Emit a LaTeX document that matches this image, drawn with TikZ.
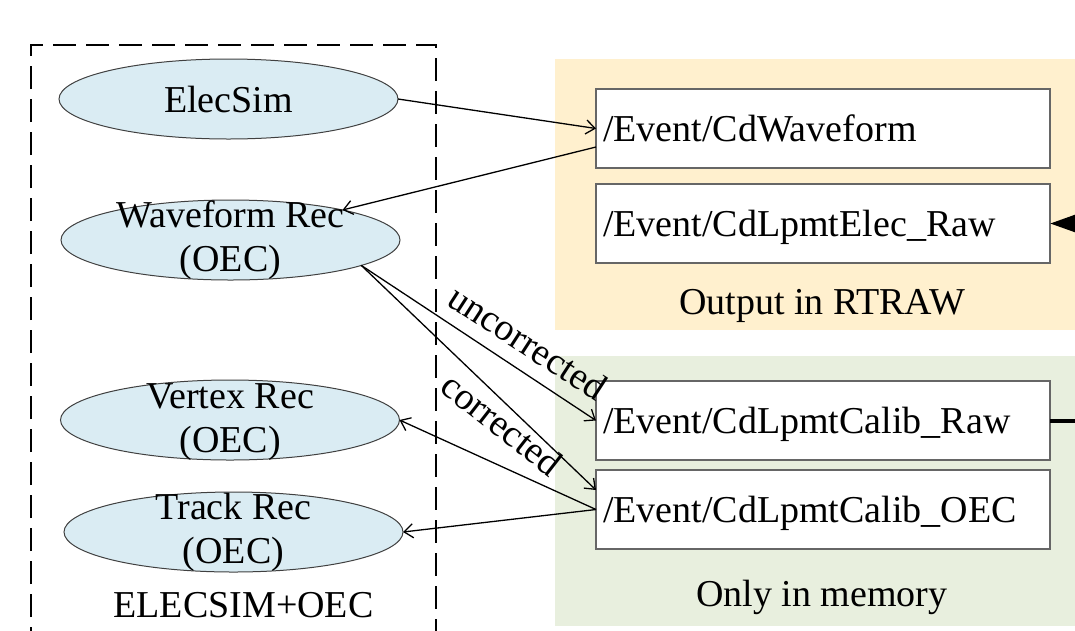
\documentclass[tikz,border=0pt]{standalone}
\usepackage{fontspec}
\setmainfont{Liberation Serif}
\usetikzlibrary{shapes.geometric,arrows.meta}
\definecolor{ellfill}{HTML}{DAECF3}
\definecolor{ellline}{HTML}{404040}
\definecolor{boxline}{HTML}{666666}
\definecolor{orangepanel}{HTML}{FFF0CE}
\definecolor{greenpanel}{HTML}{E8EFDE}
\begin{document}
\begin{tikzpicture}[x=1pt,y=-1pt,
  every node/.style={font=\fontsize{38}{44}\selectfont, inner sep=0pt, outer sep=0pt},
  ell/.style={ellipse, draw=ellline, line width=1pt, fill=ellfill, minimum width=339pt, minimum height=80pt},
  lbl/.style={align=center},
  databox/.style={draw=boxline, line width=1.5pt, fill=white, minimum width=454pt, minimum height=79pt, text width=440pt, align=left, text height=30pt, text depth=5pt},
  conn/.style={line width=1.3pt, -{Straight Barb[length=9pt,width=14pt]}},
  thick conn/.style={line width=4pt},
  frame/.style={line width=2pt, dash pattern=on 23pt off 10pt},
]
\useasboundingbox (0,0) rectangle (1075,630);
\clip (0,0) rectangle (1075,630);
\fill[white] (0,0) rectangle (1075,630);

% panels
\fill[orangepanel] (555,59) rectangle (1085,330);
\fill[greenpanel] (555,356) rectangle (1085,626);

% dashed frame
\draw[frame] (31,650) -- (31,45) -- (436,45) -- (436,650);

% ellipses
\node[ell] (elecsim) at (228.5,99) {};
\node[lbl] (elecsimT) at (elecsim.center) {ElecSim};
\node[ell] (wfrec) at (230.5,240) {};
\node[lbl] (wfrecT) at (wfrec.center) {Waveform Rec\\(OEC)};
\node[ell] (vertex) at (230,420) {};
\node[lbl] (vertexT) at ([yshift=-2pt]vertex.center) {Vertex Rec\\(OEC)};
\node[ell] (track) at (233.5,532) {};
\node[lbl] (trackT) at (track.center) {Track Rec\\(OEC)};
\node[anchor=base] (frameT) at (243.5,617) {ELECSIM+OEC};

% data boxes
\node[databox] (wf) at (823,128.5) {/Event/CdWaveform};
\node[databox] (elec) at (823,223.5) {/Event/CdLpmtElec\_Raw};
\node[databox] (calraw) at (823,420.5) {/Event/CdLpmtCalib\_Raw};
\node[databox] (caloec) at (823,509.5) {/Event/CdLpmtCalib\_OEC};
\node[anchor=base] (outT) at (822,314) {Output in RTRAW};
\node[anchor=base] (memT) at (822,606) {Only in memory};

% connectors
\draw[conn] (elecsim.east) -- (wf.west);
\draw[conn] ([yshift=-18.5pt]wf.west) -- (wfrec.15);
\draw[conn] (wfrec.-11) -- (calraw.west);
\draw[conn] (wfrec.-11) -- ([yshift=19.5pt]caloec.west);
\draw[conn] (caloec.west) -- (vertex.east);
\draw[conn] (caloec.west) -- (track.east);

\node[rotate=-33] (lblU) at (528,342) {uncorrected};
\node[rotate=-38] (lblC) at (502,424) {corrected};

% right-side thick connectors
\coordinate (rin) at (1085,223.5);
\coordinate (rout) at (1085,420.5);
\draw[thick conn, -{Triangle[length=30pt,width=20pt]}] (rin) -- (elec.east);
\draw[thick conn] (calraw.east) -- (rout);
\end{tikzpicture}
\end{document}
